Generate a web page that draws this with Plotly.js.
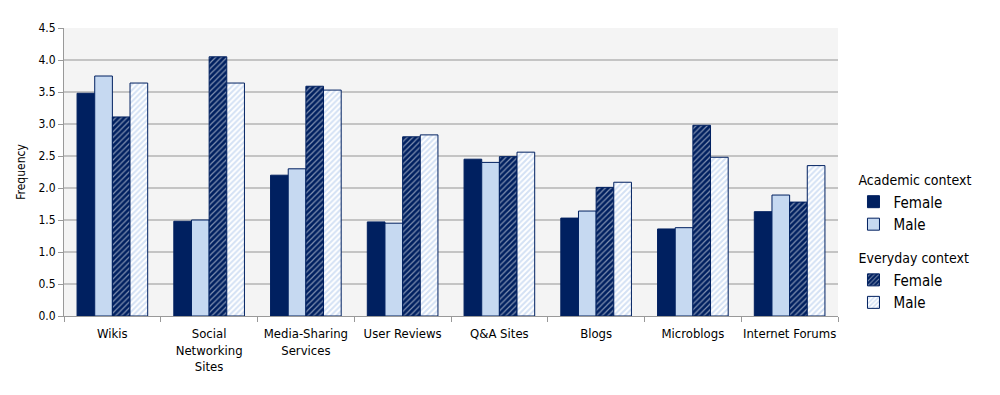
<!DOCTYPE html>
<html>
<head>
<meta charset="utf-8">
<script src="https://cdn.plot.ly/plotly-3.0.1.min.js"></script>
<style>html,body{margin:0;padding:0;background:#fff;}#chart{width:1000px;height:395px;}</style>
</head>
<body>
<div id="chart"></div>
<script>
var categories = ["Wikis", "Social<br>Networking<br>Sites", "Media-Sharing<br>Services", "User Reviews", "Q&A Sites", "Blogs", "Microblogs", "Internet Forums"];
var academicFemale = [3.48, 1.48, 2.20, 1.47, 2.45, 1.53, 1.36, 1.63];
var academicMale   = [3.75, 1.50, 2.30, 1.45, 2.40, 1.64, 1.38, 1.89];
var everydayFemale = [3.11, 4.05, 3.59, 2.80, 2.49, 2.01, 2.98, 1.78];
var everydayMale   = [3.64, 3.64, 3.53, 2.83, 2.56, 2.09, 2.48, 2.35];
var yTickVals = [0, 0.5, 1.0, 1.5, 2.0, 2.5, 3.0, 3.5, 4.0, 4.5];

var navy = "#002060";
var light = "#c6d9f1";
var FONT = "DejaVu Sans Condensed, DejaVu Sans, sans-serif";

var traces = [
  {type:"bar", name:"Female", x:categories, y:academicFemale, legendgroup:"acad",
   legendgrouptitle:{text:"Academic context"},
   marker:{color:navy, line:{color:navy, width:1}}},
  {type:"bar", name:"Male", x:categories, y:academicMale, legendgroup:"acad",
   marker:{color:light, line:{color:navy, width:1}}},
  {type:"bar", name:"Female", x:categories, y:everydayFemale, legendgroup:"every",
   legendgrouptitle:{text:"Everyday context"},
   marker:{color:navy, line:{color:navy, width:1},
     pattern:{shape:"/", bgcolor:navy, fgcolor:"#ffffff", size:4, solidity:0.3, fillmode:"overlay"}}},
  {type:"bar", name:"Male", x:categories, y:everydayMale, legendgroup:"every",
   marker:{color:"#ffffff", line:{color:navy, width:1},
     pattern:{shape:"/", bgcolor:"#ffffff", fgcolor:"#a9c4ea", size:4, solidity:0.5, fillmode:"overlay"}}}
];

var layout = {
  width:1000, height:395,
  margin:{l:64, r:162, t:28, b:79},
  paper_bgcolor:"#ffffff",
  plot_bgcolor:"#f4f4f4",
  font:{family:FONT, size:12, color:"#000"},
  barmode:"group",
  bargap:0.27,
  bargroupgap:0,
  showlegend:true,
  legend:{x:1.02, y:0.527, xanchor:"left", yanchor:"top", traceorder:"grouped",
    tracegroupgap:12, itemwidth:30, font:{family:FONT, size:15, color:"#000"},
    grouptitlefont:{family:FONT, size:14, color:"#000"}, bgcolor:"rgba(0,0,0,0)"},
  xaxis:{type:"category", tickson:"boundaries", ticks:"outside", ticklen:5, tickcolor:"#999",
    showline:true, linecolor:"#999", linewidth:1, showgrid:false, ticklabelstandoff:5, tickangle:0,
    tickfont:{family:FONT, size:13, color:"#000"}},
  yaxis:{range:[0,4.5], tickvals:yTickVals, tickformat:".1f", ticks:"outside", ticklen:5, tickcolor:"#999",
    showline:true, linecolor:"#999", linewidth:1, showgrid:true, gridcolor:"#c4c4c4", gridwidth:2,
    zeroline:false, tickfont:{family:FONT, size:12, color:"#000"},
    title:{text:"Frequency", font:{family:FONT, size:12, color:"#000"}, standoff:10}}
};

Plotly.newPlot("chart", traces, layout, {displayModeBar:false, staticPlot:true});
</script>
</body>
</html>
